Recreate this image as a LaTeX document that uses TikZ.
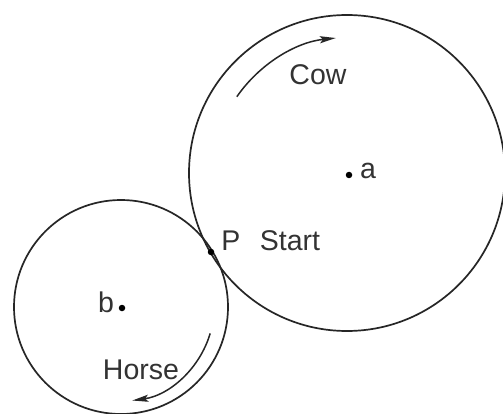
\documentclass[tikz,border=0pt]{standalone}
\usepackage{fontspec}
\setmainfont{Liberation Sans}
\usetikzlibrary{arrows.meta}
\begin{document}
\begin{tikzpicture}[x=1pt,y=-1pt,
  ring/.style={line width=1.7pt, draw=black!85},
  motion/.style={line width=1.5pt, draw=black!85, -{Stealth[length=16pt,width=7pt,inset=3pt]}},
  lbl/.style={font=\fontsize{28.5}{30}\selectfont, text=black!80, inner sep=0pt},
  dotmark/.style={circle, fill=black, inner sep=0pt, minimum size=6.5pt}]
\useasboundingbox (0,0) rectangle (503,414);
\fill[white] (0,0) rectangle (503,414);
\coordinate (A) at (347,173);
\coordinate (B) at (121,307);
\draw[ring] (A) circle[radius=158];
\draw[ring] (B) circle[radius=107];
\node[dotmark] (adot) at (349,175) {};
\node[dotmark] (bdot) at (122,308) {};
\node[dotmark] (pdot) at (211,252) {};
\node[lbl] (alab) at (368,171) {a};
\node[lbl] (blab) at (106,302) {b};
\node[lbl] (plab) at (231,241) {P};
\node[lbl] (start) at (290,241) {Start};
\node[lbl] (cow) at (318,75) {Cow};
\node[lbl] (horse) at (141,370) {Horse};
\draw[motion] (A) ++(214.7:134) arc[start angle=214.7, end angle=264, radius=138];
\draw[motion] (B) ++(16.5:93) arc[start angle=16.5, end angle=82, radius=95];
\end{tikzpicture}
\end{document}
